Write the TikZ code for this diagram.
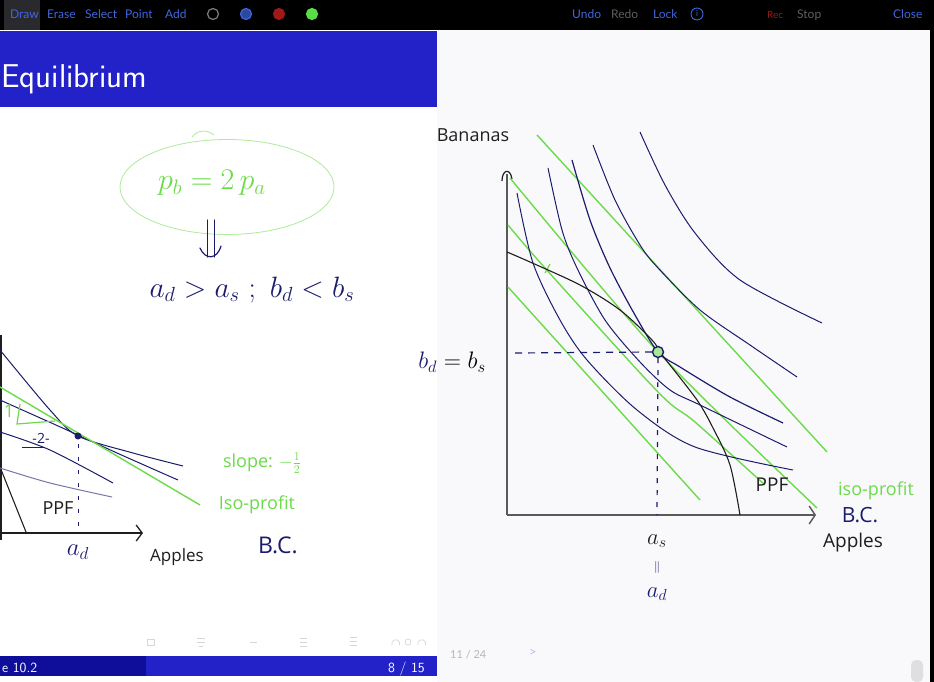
\documentclass[tikz,border=0pt]{standalone}
\usepackage{graphicx}
\usepackage{fontspec}
\newfontfamily\uifont{Lato}
\newfontfamily\handfont{Open Sans}
\usetikzlibrary{arrows.meta, shapes.geometric}
\definecolor{barblue}{HTML}{2222C8}
\definecolor{bardark}{HTML}{0E0E9A}
\definecolor{uiblue}{HTML}{3F66E0}
\definecolor{uigrey}{HTML}{5E5E66}
\definecolor{uired}{HTML}{A01818}
\definecolor{swgreen}{HTML}{58DD48}
\definecolor{navyink}{HTML}{1C1C6C}
\definecolor{greenink}{HTML}{6CDB4A}
\definecolor{inkblack}{HTML}{1E1E1E}
\definecolor{axisgrey}{HTML}{5A5A5A}
\definecolor{paper}{HTML}{F9F9FB}
\tikzset{
  tool/.style={font=\uifont\fontsize{12}{14}\selectfont, text=uiblue, inner sep=0pt, anchor=base west},
  toolgrey/.style={tool, text=uigrey},
  swatch/.style={circle, minimum size=11pt, inner sep=0pt, line width=1.2pt},
  slidetext/.style={font=\sffamily\fontsize{14}{16}\selectfont, text=white, inner sep=0pt, anchor=base west},
  icurve/.style={draw=navyink, line width=1pt},
  isoline/.style={draw=greenink, line width=1.4pt},
  ppfline/.style={draw=inkblack, line width=1.1pt},
  axisline/.style={draw=axisgrey, line width=1.4pt},
  guide/.style={draw=navyink, line width=1.2pt, dash pattern=on 7pt off 6pt},
  penstroke/.style={draw=navyink, line width=1.2pt, line cap=round},
  hand/.style={font=\handfont\fontsize{18}{20}\selectfont, inner sep=0pt},
  mathhand/.style={font=\fontsize{20.74}{22}\selectfont, inner sep=0pt},
}
\begin{document}
\begin{tikzpicture}[x=1pt, y=-1pt]
  \useasboundingbox (0,0) rectangle (934,682);
  \fill[paper] (0,0) rectangle (934,682);
  \fill[white] (0,30) rectangle (437,682);
  \fill[black] (930,30) rectangle (934,682);
  \fill[black] (0,0) rectangle (934,30);
  \fill[uigrey!45!black] (4,0) rectangle (40,30);
  \node[tool] (tdraw) at (10,19) {Draw};
  \node[tool] (terase) at (47,19) {Erase};
  \node[tool] (tselect) at (85,19) {Select};
  \node[tool] (tpoint) at (125,19) {Point};
  \node[tool] (tadd) at (165,19) {Add};
  \node[swatch, draw=uigrey!80!white] (swwhite) at (213,14) {};
  \node[swatch, draw=uiblue, fill=uiblue!70!black] (swblue) at (246,14) {};
  \node[swatch, draw=uired, fill=uired] (swred) at (279,14) {};
  \node[swatch, draw=swgreen, fill=swgreen] (swgreen) at (312,14) {};
  \node[tool] (tundo) at (572,19) {Undo};
  \node[toolgrey] (tredo) at (611,19) {Redo};
  \node[tool] (tlock) at (653,19) {Lock};
  \node[swatch, draw=uiblue, line width=0.9pt, minimum size=12pt, font=\uifont\fontsize{8}{8}\selectfont, text=uiblue] (tinfo) at (697,14) {i};
  \node[tool, text=uired, font=\uifont\fontsize{10}{12}\selectfont] (trec) at (767,19) {Rec};
  \node[toolgrey] (tstop) at (797,19) {Stop};
  \node[tool] (tclose) at (893,19) {Close};

  \fill[barblue] (0,31) rectangle (437,107);
  \node[font=\sffamily\fontsize{33}{36}\selectfont, text=white, inner sep=0pt, anchor=base west] (title) at (1,88) {Equilibrium};

  \fill[bardark] (0,656) rectangle (146,676);
  \fill[barblue] (146,656) rectangle (437,676);
  \node[slidetext] (secnum) at (2,672) {e 10.2};
  \node[slidetext] (pagenum) at (388,672) {8 / 15};
  \begin{scope}[draw=uigrey!25, line width=0.7pt]
    \draw (147,639) rectangle (154,645);
    \draw (197,638) -- (205,638) (197,642) -- (205,642) (199,646) -- (203,646);
    \draw (250,642) -- (257,642);
    \draw (300,638) -- (307,638) (300,642) -- (307,642) (300,646) -- (307,646);
    \draw (350,637) -- (357,637) (350,641) -- (357,641) (350,645) -- (357,645);
    \draw (392,645) arc (200:-20:4pt) (408,642) circle (3pt) (418,645) arc (200:-20:4pt);
  \end{scope}
  \node[font=\uifont\fontsize{11}{12}\selectfont, text=uigrey!45, inner sep=0pt, anchor=base west] (slidecount) at (450,658) {11 / 24};
  \node[font=\uifont\fontsize{13}{14}\selectfont, text=uiblue!40, inner sep=0pt] (nextarrow) at (533,653) {>};
  \fill[uigrey!20, rounded corners=5pt] (911,660) rectangle (923,682);

  % price ratio and its consequence
  \node[ellipse, draw=greenink!55, line width=0.8pt, minimum width=214pt, minimum height=95pt] (priceoval) at (227,187) {};
  \draw[greenink!55, line width=0.8pt] (192,137) .. controls (198,129) and (208,130) .. (214,135);
  \node[mathhand, text=greenink] (pricerule) at (212,183) {\scalebox{1.45}{$p_b = 2\,p_a$}};
  \coordinate (dtop) at (211,220);
  \coordinate (dbot) at (211,257);
  \draw[penstroke] ([xshift=-3.5pt]dtop) -- ([xshift=-3.5pt]dbot);
  \draw[penstroke] ([xshift=3.5pt]dtop) -- ([xshift=3.5pt]dbot);
  \draw[penstroke] ([xshift=-11pt, yshift=9pt]dbot) .. controls ([xshift=-6pt, yshift=-3pt]dbot) and ([xshift=6pt, yshift=-3pt]dbot) .. ([xshift=10pt, yshift=11pt]dbot);
  \node[mathhand, text=navyink] (excess) at (252,290) {\scalebox{1.42}{$a_d > a_s\ ;\ b_d < b_s$}};

  % left chart
  \draw[inkblack, line width=1.3pt] (1,335) -- (1,540);
  \draw[inkblack, line width=1.3pt, -{Straight Barb[length=6pt, width=16pt]}] (0,533) -- (143,533);
  \draw[ppfline] (0,467) -- (26,532);
  \draw[icurve] plot[smooth] coordinates {(0,350) (50,410) (78,436) (133,453) (183,466)};
  \draw[icurve] plot[smooth] coordinates {(0,400) (67,430) (117,453) (178,480)};
  \draw[icurve] plot[smooth] coordinates {(0,432) (50,450) (113,483)};
  \draw[icurve, draw=navyink!60] plot[smooth] coordinates {(0,468) (50,483) (112,497)};
  \draw[isoline] (0,387) -- (200,505);
  \fill[navyink] (78,436) circle (3.5pt);
  \draw[navyink, line width=1pt, dash pattern=on 4pt off 9pt] (78,444) -- (78,532);
  \node[hand, text=greenink] (rise) at (9,411) {1};
  \draw[greenink, line width=1.2pt] (20,404) -- (17,424) -- (55,421);
  \node[hand, text=navyink, font=\handfont\fontsize{14}{16}\selectfont] (run) at (41,438) {-2-};
  \draw[navyink, line width=1pt] (45,447) -- (22,447);
  \node[hand, text=inkblack] (ppfleft) at (58,508) {PPF};
  \node[mathhand, text=navyink] (adleft) at (78,552) {\scalebox{1.2}{$a_d$}};
  \node[hand, text=inkblack, font=\handfont\fontsize{17}{19}\selectfont] (applesleft) at (177,557) {Apples};
  \node[hand, text=greenink] (slopelabel) at (262,463) {slope: $-\frac{1}{2}$};
  \node[hand, text=greenink] (isoleft) at (257,505) {Iso-profit};
  \node[hand, text=navyink, font=\handfont\fontsize{23}{25}\selectfont] (bcleft) at (278,545) {B.C.};

  % right chart
  \node[hand, text=inkblack] (bananas) at (473,135) {Bananas};
  \draw[axisline] (507,174) -- (507,515);
  \draw[inkblack, line width=1.2pt] (502,181) .. controls (502,170) and (510,167) .. (512,179);
  \draw[axisline, -{Straight Barb[length=6pt, width=18pt]}] (507,515) -- (816,515);
  \draw[isoline] (537,135) -- (827,452);
  \draw[isoline] plot[smooth] coordinates {(510,178) (658,352) (817,508)};
  \draw[isoline] plot[smooth] coordinates {(508,225) (545,268) (658,392) (695,422) (765,485)};
  \draw[isoline] (508,287) -- (700,500);
  \draw[greenink, line width=1.2pt] (545,273) -- (550,264);
  \draw[icurve] plot[smooth] coordinates {(517,193) (533,263) (560,320) (587,360) (637,410) (695,447) (793,470)};
  \draw[icurve] plot[smooth] coordinates {(548,168) (562,230) (577,268) (605,320) (640,362) (670,390) (700,405) (787,447)};
  \draw[icurve, line width=1.2pt] plot[smooth] coordinates {(572,160) (590,220) (610,268) (635,315) (658,352) (680,367) (730,397) (783,423)};
  \draw[icurve] plot[smooth] coordinates {(593,145) (615,200) (640,245) (658,268) (700,310) (750,345) (797,377)};
  \draw[icurve] plot[smooth] coordinates {(640,132) (665,185) (695,233) (740,280) (822,323)};
  \draw[ppfline] plot[smooth] coordinates {(507,252) (530,262) (580,285) (620,310) (652,340) (663,356) (697,400) (713,428) (730,465) (740,515)};
  \node[circle, draw=navyink, fill=greenink!60, line width=1.4pt, minimum size=11pt, inner sep=0pt] (eqpoint) at (658,352) {};
  \coordinate (bsaxis) at (515,353);
  \coordinate (asaxis) at (657,515);
  \draw[guide] (bsaxis) -- (eqpoint.west);
  \draw[guide, dash pattern=on 5pt off 7pt] (eqpoint.south) -- (asaxis);
  \node[mathhand] (bsupply) at (452,362) {\scalebox{1.15}{$\textcolor{navyink}{b_d} = b_s$}};
  \node[mathhand, text=inkblack] (aslabel) at (657,541) {\scalebox{1.1}{$a_s$}};
  \node[text=navyink, font=\fontsize{12}{12}\selectfont, inner sep=0pt] (aequal) at (657,567) {$\|$};
  \node[mathhand, text=navyink] (adlabel) at (657,594) {\scalebox{1.1}{$a_d$}};
  \node[hand, text=inkblack, font=\handfont\fontsize{19}{21}\selectfont] (ppfright) at (772,485) {PPF};
  \node[hand, text=greenink] (isoright) at (876,491) {iso-profit};
  \node[hand, text=navyink, font=\handfont\fontsize{21}{23}\selectfont] (bcright) at (860,515) {B.C.};
  \node[hand, text=inkblack, font=\handfont\fontsize{19}{21}\selectfont] (applesright) at (853,543) {Apples};
\end{tikzpicture}
\end{document}
